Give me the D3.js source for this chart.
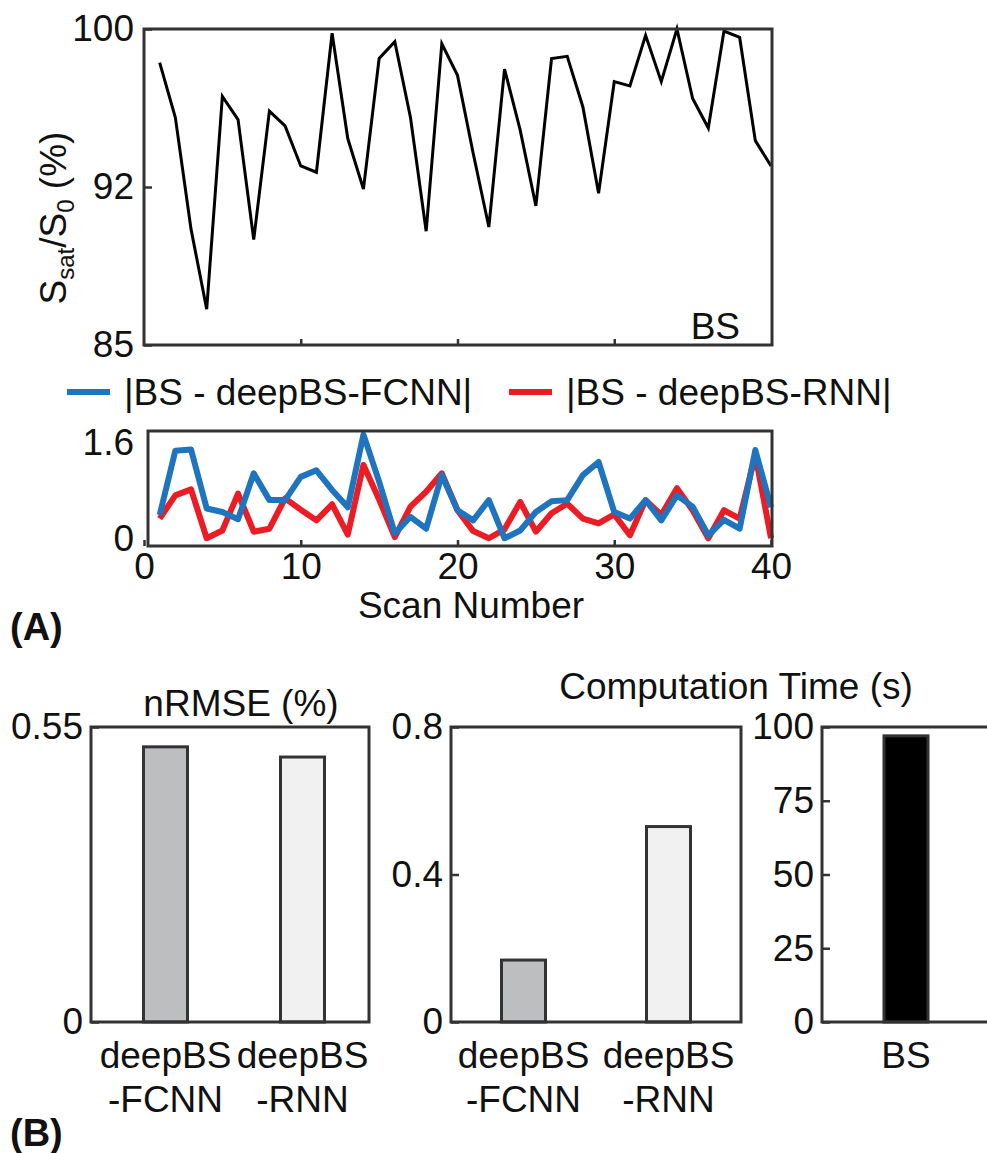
<!DOCTYPE html>
<html>
<head>
<meta charset="utf-8">
<script src="https://cdn.jsdelivr.net/npm/d3@7"></script>
<style>
  body { margin: 0; background: #fff; }
  text { font-family: "Liberation Sans", Arial, sans-serif; fill: #111; }
</style>
</head>
<body>
<svg id="fig" width="987" height="1153"></svg>
<script>
// ---- data ----
const scanNumbers = d3.range(1, 41);
const bsSignal = [98.4, 95.8, 90.5, 86.7, 96.8, 95.7, 90.0, 96.1, 95.4, 93.5,
                  93.2, 99.8, 94.8, 92.4, 98.6, 99.4, 95.8, 90.4, 99.3, 97.8,
                  94.1, 90.6, 98.1, 95.2, 91.6, 98.6, 98.7, 96.3, 92.2, 97.5,
                  97.3, 99.7, 97.5, 100.0, 96.7, 95.3, 99.9, 99.6, 94.7, 93.5];
const errFcnn = [0.39, 1.47, 1.49, 0.50, 0.44, 0.32, 1.09, 0.64, 0.64, 1.03,
                 1.14, 0.81, 0.52, 1.74, 0.95, 0.08, 0.36, 0.16, 1.06, 0.47,
                 0.30, 0.64, 0.00, 0.13, 0.44, 0.62, 0.64, 1.06, 1.28, 0.44,
                 0.33, 0.64, 0.30, 0.72, 0.53, 0.05, 0.31, 0.16, 1.48, 0.52];
const errRnn = [0.33, 0.72, 0.82, 0.00, 0.13, 0.75, 0.11, 0.16, 0.67, 0.48,
                0.30, 0.57, 0.06, 1.23, 0.65, 0.02, 0.53, 0.78, 1.09, 0.47,
                0.12, 0.00, 0.15, 0.61, 0.11, 0.42, 0.58, 0.33, 0.25, 0.40,
                0.05, 0.64, 0.39, 0.84, 0.47, 0.00, 0.47, 0.33, 1.40, 0.00];
const topTicks = [85, 92.5, 100];
const topTickLabels = ['85', '92', '100'];
const errTicks = [0, 1.6];
const scanTicks = [0, 10, 20, 30, 40];
const legendLabels = ['|BS - deepBS-FCNN|', '|BS - deepBS-RNN|'];

const deepMethods = [['deepBS', '-FCNN'], ['deepBS', '-RNN']];
const nrmseValues = [0.513, 0.494];
const nrmseTicks = [0, 0.55];
const timeValues = [0.168, 0.53];
const timeTicks = [0, 0.4, 0.8];
const bsMethods = [['BS']];
const bsTime = [97];
const bsTimeTicks = [0, 25, 50, 75, 100];

const blue = '#1f74c0', red = '#ec1c24';
const barFills = ['#bdbec0', '#f0f1f0'];
const FS = 37;

const svg = d3.select('#fig');

function styleAxis(g) {
  g.select('.domain').remove();
  g.selectAll('.tick line').attr('stroke', '#333').attr('stroke-width', 2.5);
  g.selectAll('.tick text').attr('font-size', FS).attr('fill', '#111');
}

function box(x0, y0, x1, y1) {
  svg.append('rect')
    .attr('x', x0).attr('y', y0)
    .attr('width', x1 - x0).attr('height', y1 - y0)
    .attr('fill', 'none').attr('stroke', '#333').attr('stroke-width', 3);
}

// ---- (A) top: BS signal ----
let x = d3.scaleLinear().domain([0, 40]).range([144, 771]);
let yTop = d3.scaleLinear().domain([85, 100]).range([345, 29]);

svg.append('path')
  .datum(bsSignal)
  .attr('fill', 'none').attr('stroke', '#000').attr('stroke-width', 3)
  .attr('stroke-linejoin', 'miter')
  .attr('d', d3.line().x(function (d, i) { return x(scanNumbers[i]); }).y(function (d) { return yTop(d); }));

svg.append('g').attr('transform', 'translate(144,0)')
  .call(d3.axisLeft(yTop).tickValues(topTicks).tickSize(-8).tickPadding(10)
    .tickFormat(function (d, i) { return topTickLabels[i]; }))
  .call(styleAxis);
svg.append('g').attr('transform', 'translate(0,345)')
  .call(d3.axisBottom(x).tickValues([10, 20, 30]).tickSize(-6).tickFormat(''))
  .call(styleAxis);
box(144, 29, 772, 345);

svg.append('text').attr('x', 740).attr('y', 339).attr('text-anchor', 'end')
  .attr('font-size', FS).text('BS');

let ylab = svg.append('text')
  .attr('transform', 'translate(66,218) rotate(-90)')
  .attr('text-anchor', 'middle').attr('font-size', FS);
ylab.append('tspan').text('S');
ylab.append('tspan').attr('font-size', 24).attr('dy', 8).text('sat');
ylab.append('tspan').attr('dy', -8).text('/S');
ylab.append('tspan').attr('font-size', 24).attr('dy', 8).text('0');
ylab.append('tspan').attr('dy', -8).text(' (%)');

// ---- legend ----
let legendX = [67, 509];
[blue, red].forEach(function (c, i) {
  svg.append('line').attr('x1', legendX[i]).attr('x2', legendX[i] + 43)
    .attr('y1', 392).attr('y2', 392).attr('stroke', c).attr('stroke-width', 6);
  svg.append('text').attr('x', legendX[i] + 57).attr('y', 405)
    .attr('font-size', FS).text(legendLabels[i]);
});

// ---- (A) bottom: absolute errors ----
let yErr = d3.scaleLinear().domain([-0.13, 1.8]).range([546, 431]);
let errLine = d3.line().x(function (d, i) { return x(scanNumbers[i]); }).y(function (d) { return yErr(d); });

svg.append('path').datum(errRnn)
  .attr('fill', 'none').attr('stroke', red).attr('stroke-width', 6).attr('stroke-linejoin', 'round')
  .attr('d', errLine);
svg.append('path').datum(errFcnn)
  .attr('fill', 'none').attr('stroke', blue).attr('stroke-width', 6).attr('stroke-linejoin', 'round')
  .attr('d', errLine);

svg.append('g').attr('transform', 'translate(148,0)')
  .call(d3.axisLeft(yErr).tickValues(errTicks).tickSize(0).tickPadding(14).tickFormat(d3.format('')))
  .call(styleAxis);
svg.append('g').attr('transform', 'translate(0,546)')
  .call(d3.axisBottom(x).tickValues(scanTicks).tickSize(-6).tickPadding(7).tickFormat(d3.format('d')))
  .call(styleAxis);
box(148, 431, 772, 546);

svg.append('text').attr('x', 471).attr('y', 618).attr('text-anchor', 'middle')
  .attr('font-size', FS).text('Scan Number');

svg.append('text').attr('x', 10).attr('y', 640).attr('font-size', FS + 1)
  .attr('font-weight', 'bold').text('(A)');

// ---- (B) bar charts ----
function barChart(opts) {
  let xs = d3.scalePoint().domain(opts.cats.map(function (c) { return c.join(' '); }))
    .range(opts.xr).padding(opts.pad);
  let ys = d3.scaleLinear().domain(opts.domain).range([1022, 727]);
  svg.selectAll(null).data(opts.values).enter().append('rect')
    .attr('x', function (d, i) { return xs(opts.cats[i].join(' ')) - 22; })
    .attr('y', function (d) { return ys(d); })
    .attr('width', 44)
    .attr('height', function (d) { return ys(0) - ys(d); })
    .attr('fill', function (d, i) { return opts.fills[i]; })
    .attr('stroke', '#333').attr('stroke-width', 3);
  svg.append('g').attr('transform', 'translate(' + opts.box[0] + ',0)')
    .call(d3.axisLeft(ys).tickValues(opts.ticks).tickSize(-8).tickPadding(8)
      .tickFormat(opts.fmt))
    .call(styleAxis);
  box(opts.box[0], 727, opts.box[1], 1022);
  opts.cats.forEach(function (c) {
    c.forEach(function (line, j) {
      svg.append('text').attr('x', xs(c.join(' '))).attr('y', 1068 + j * 44)
        .attr('text-anchor', 'middle').attr('font-size', FS).text(line);
    });
  });
}

barChart({ cats: deepMethods, values: nrmseValues, domain: [0, 0.55], ticks: nrmseTicks,
  fmt: function (d) { return d === 0 ? '0' : String(d); },
  xr: [97, 371], pad: 0.5, box: [91, 369], fills: barFills });
barChart({ cats: deepMethods, values: timeValues, domain: [0, 0.8], ticks: timeTicks,
  fmt: function (d) { return d === 0 ? '0' : String(d); },
  xr: [451, 741], pad: 0.5, box: [451, 741], fills: barFills });
barChart({ cats: bsMethods, values: bsTime, domain: [0, 100], ticks: bsTimeTicks,
  fmt: d3.format('d'),
  xr: [822, 990], pad: 0.5, box: [822, 992], fills: ['#000'] });

svg.append('text').attr('x', 241).attr('y', 716).attr('text-anchor', 'middle')
  .attr('font-size', FS).text('nRMSE (%)');
svg.append('text').attr('x', 736).attr('y', 699).attr('text-anchor', 'middle')
  .attr('font-size', FS).text('Computation Time (s)');

svg.append('text').attr('x', 10).attr('y', 1146).attr('font-size', FS + 1)
  .attr('font-weight', 'bold').text('(B)');
</script>
</body>
</html>
